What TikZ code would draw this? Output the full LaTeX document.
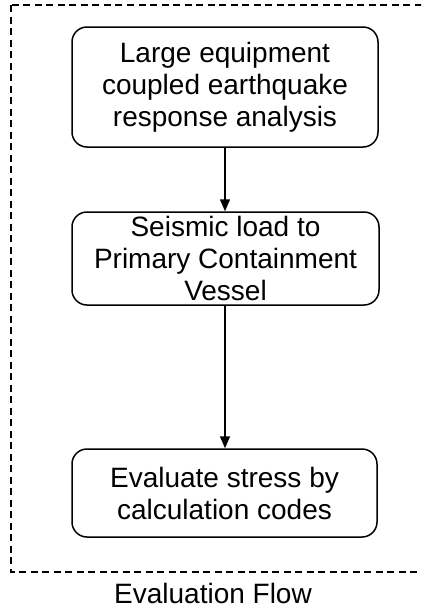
\documentclass[tikz,border=0pt]{standalone}
\usepackage{fontspec}
\setmainfont{Liberation Sans}
\usetikzlibrary{arrows.meta}
\begin{document}
\begin{tikzpicture}[x=1pt,y=-1pt,
  flowbox/.style={draw=black, line width=1.5pt, rounded corners=15pt, align=center,
    font=\fontsize{28}{32}\selectfont, inner sep=0pt},
  flowarrow/.style={line width=1.5pt, -{Triangle[length=12pt,width=10pt]}},
  frame/.style={draw=black, line width=1.2pt, dash pattern=on 7pt off 4.5pt}]
\useasboundingbox (0,0) rectangle (421,611);
\clip (0,0) rectangle (421,611);
\fill[white] (0,0) rectangle (421,611);
\draw[frame] (11,5) rectangle (460,572);
\node[flowbox, minimum width=306pt, minimum height=120pt] (a) at (225,87)
  {Large equipment\\coupled earthquake\\response analysis};
\node[flowbox, minimum width=307pt, minimum height=93pt] (b) at (225.5,258.5)
  {Seismic load to\\Primary Containment\\Vessel};
\node[flowbox, minimum width=305pt, minimum height=88pt] (c) at (224.5,493)
  {Evaluate stress by\\calculation codes};
\draw[flowarrow] (a.south -| 225,0) -- (b.north -| 225,0);
\draw[flowarrow] (b.south -| 225,0) -- (c.north -| 225,0);
\node[font=\fontsize{28}{32}\selectfont, inner sep=0pt] (cap) at (213,593) {Evaluation Flow};
\end{tikzpicture}
\end{document}
